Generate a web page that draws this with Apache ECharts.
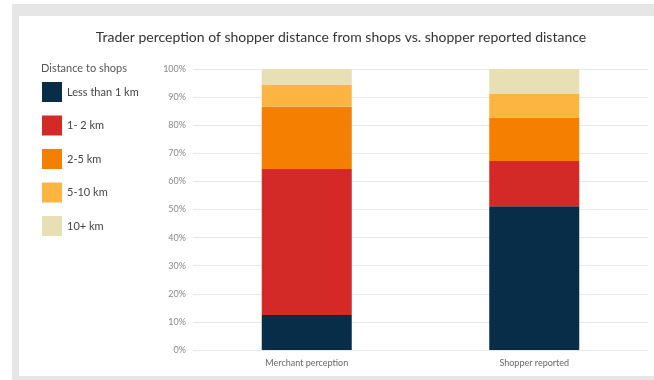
<!DOCTYPE html>
<html>
<head>
<meta charset="utf-8">
<script src="https://cdn.jsdelivr.net/npm/echarts@6/dist/echarts.min.js"></script>
<style>
  html, body { margin: 0; padding: 0; background: #fff; }
  #main { width: 654px; height: 380px; }
</style>
</head>
<body>
<div id="main"></div>
<script>
// categories and shares (%)
var categories = ['Merchant perception', 'Shopper reported'];
var seriesNames = ['Less than 1 km', '1- 2 km', '2-5 km', '5-10 km', '10+ km'];
var lessThan1 = [12.5, 51.2];
var km1to2 = [51.9, 16.1];
var km2to5 = [22.2, 15.4];
var km5to10 = [7.9, 8.6];
var km10plus = [5.5, 8.7];
var colors = ['#082d48', '#d42a27', '#f57f00', '#fbb540', '#e8dfb5'];

var myChart = echarts.init(document.getElementById('main'));

var values = [lessThan1, km1to2, km2to5, km5to10, km10plus];
var series = seriesNames.map(function (name, i) {
    return {
        name: name,
        type: 'bar',
        stack: 'total',
        barWidth: 90,
        data: values[i],
        itemStyle: { color: colors[i] }
    };
});

var option = {
    animation: false,
    graphic: [
        // grey frame around the white panel
        { type: 'rect', z: -10, shape: { x: 12, y: 4, width: 642, height: 376 }, style: { fill: '#e6e6e6' } },
        { type: 'rect', z: -9, shape: { x: 19, y: 16, width: 635, height: 360 }, style: { fill: '#ffffff' } }
    ],
    title: [
        {
            text: 'Trader perception of shopper distance from shops vs. shopper reported distance',
            left: 336, top: 25, textAlign: 'center',
            textStyle: { fontFamily: 'Lato', fontSize: 14, fontWeight: 'normal', color: '#333' }
        },
        {
            text: 'Distance to shops',
            left: 36, top: 58,
            textStyle: { fontFamily: 'Lato', fontSize: 11, fontWeight: 'normal', color: '#555' }
        }
    ],
    legend: {
        orient: 'vertical',
        left: 37, top: 77,
        itemWidth: 20, itemHeight: 20, itemGap: 13.5,
        icon: 'rect',
        data: seriesNames,
        textStyle: { fontFamily: 'Lato', fontSize: 11, color: '#444' }
    },
    grid: { left: 193, right: 6, top: 69, bottom: 30 },
    xAxis: {
        type: 'category',
        data: categories,
        axisLine: { show: false },
        axisTick: { show: false },
        axisLabel: { fontFamily: 'Lato', fontSize: 9, color: '#666', margin: 9 }
    },
    yAxis: {
        type: 'value',
        min: 0, max: 100, interval: 10,
        axisLabel: { formatter: '{value}%', fontFamily: 'Lato', fontSize: 9, color: '#888', margin: 7 },
        splitLine: { lineStyle: { color: '#e8e8e8' } }
    },
    series: series
};

myChart.setOption(option);
</script>
</body>
</html>
